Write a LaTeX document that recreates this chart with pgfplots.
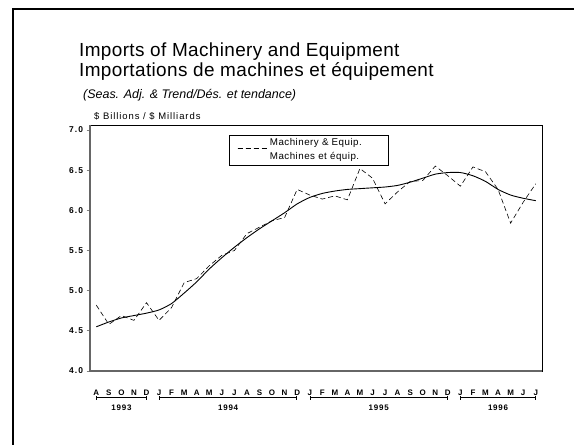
\documentclass[border=0pt]{standalone}
\usepackage{fontspec}
\setmainfont{Liberation Sans}
\usepackage{pgfplots}
\pgfplotsset{compat=1.18}
\usepackage{pgfplotstable}
\usetikzlibrary{arrows.meta}

\pgfplotstableread{
i  sa    trend
0  4.82  4.55
1  4.58  4.61
2  4.69  4.66
3  4.63  4.69
4  4.85  4.72
5  4.63  4.76
6  4.79  4.84
7  5.10  4.97
8  5.15  5.11
9  5.31  5.27
10 5.44  5.41
11 5.50  5.54
12 5.71  5.66
13 5.79  5.77
14 5.87  5.87
15 5.91  5.97
16 6.26  6.08
17 6.19  6.16
18 6.14  6.21
19 6.18  6.24
20 6.13  6.26
21 6.52  6.27
22 6.40  6.28
23 6.08  6.29
24 6.23  6.31
25 6.36  6.35
26 6.37  6.40
27 6.55  6.45
28 6.43  6.47
29 6.30  6.47
30 6.54  6.43
31 6.48  6.36
32 6.26  6.26
33 5.84  6.19
34 6.10  6.15
35 6.33  6.12
}\datatable

\newcommand{\ls}[1]{\addfontfeatures{LetterSpace=#1}}

\begin{document}
\begin{tikzpicture}[x=1bp,y=1bp]
\useasboundingbox (0,0) rectangle (574,445);
% outer frame
\draw[black, line width=1.2bp] (13,0) -- (13,436) -- (574,436);
% titles
\node[anchor=base west, inner sep=0pt, font=\fontsize{19}{22}\selectfont\ls{2}] at (79,388.5) {Imports of Machinery and Equipment};
\node[anchor=base west, inner sep=0pt, font=\fontsize{19}{22}\selectfont\ls{2}] at (79,368) {Importations de machines et équipement};
\node[anchor=base west, inner sep=0pt, font=\fontsize{12.5}{15}\selectfont\itshape] at (83,346.5) {(Seas. Adj. \& Trend/Dés. et tendance)};
\node[anchor=base west, inner sep=0pt, font=\fontsize{9.5}{11}\selectfont\ls{10}] at (94,325.5) {\$ Billions / \$ Milliards};

\begin{axis}[
  at={(90bp,74bp)}, anchor=south west,
  scale only axis, width=452bp, height=246bp,
  xmin=-0.5, xmax=35.5, ymin=4.0, ymax=7.062,
  clip=false,
  axis line style={black, line width=0.6bp},
  xtick={0,...,35},
  xticklabels={A,S,O,N,D,J,F,M,A,M,J,J,A,S,O,N,D,J,F,M,A,M,J,J,A,S,O,N,D,J,F,M,A,M,J,J},
  x tick style={draw=none},
  xticklabel style={font=\fontsize{8}{9}\selectfont\bfseries, text height=6bp, text depth=0bp, yshift=-11.5bp},
  ytick={4.0,4.5,5.0,5.5,6.0,6.5,7.0},
  yticklabels={4.0,4.5,5.0,5.5,6.0,6.5,7.0},
  yticklabel style={font=\fontsize{8.5}{9}\selectfont\bfseries\ls{12}},
  ytick pos=left, tick align=outside, major tick length=3.5bp,
  y tick style={gray, line width=0.8bp},
  /pgf/number format/assume math mode=true,
  legend style={at={(0.3075,0.959)}, anchor=north west, draw=black, line width=0.6bp,
    inner xsep=8bp, inner ysep=1.5bp, font=\fontsize{9.8}{14}\selectfont\ls{5}, cells={align=left}},
  legend cell align=left,
  legend image code/.code={\draw[black, line width=0.6bp, dash pattern=on 5bp off 3bp] (0bp,1.5bp) -- (22bp,1.5bp); \path (0bp,1.5bp) -- (30bp,1.5bp);},
]
\addplot[black, line width=0.6bp, dash pattern=on 5bp off 3bp] table[x=i,y=sa] {\datatable};
\addlegendentry{Machinery \& Equip.\hspace*{16bp}\\Machines et équip.}
\addplot[black, line width=0.9bp, smooth, tension=0.4, forget plot] table[x=i,y=trend] {\datatable};
% left and bottom axis lines (gray, heavier)
\draw[gray!80!black, line width=1.5bp] (rel axis cs:0,1) -- (rel axis cs:0,0) -- (rel axis cs:1,0);
% year brackets
\draw[black, line width=0.8bp, {Bar[width=4bp]}-{Bar[width=4bp]}] (axis cs:0,3.668) -- (axis cs:4,3.668);
\draw[black, line width=0.8bp, {Bar[width=4bp]}-{Bar[width=4bp]}] (axis cs:5,3.668) -- (axis cs:16,3.668);
\draw[black, line width=0.8bp, {Bar[width=4bp]}-{Bar[width=4bp]}] (axis cs:17,3.668) -- (axis cs:28,3.668);
\draw[black, line width=0.8bp, {Bar[width=4bp]}-{Bar[width=4bp]}] (axis cs:29,3.668) -- (axis cs:35,3.668);
\node[font=\fontsize{8}{9}\selectfont\bfseries\ls{10}] at (axis cs:2,3.54) {1993};
\node[font=\fontsize{8}{9}\selectfont\bfseries\ls{10}] at (axis cs:10.5,3.54) {1994};
\node[font=\fontsize{8}{9}\selectfont\bfseries\ls{10}] at (axis cs:22.5,3.54) {1995};
\node[font=\fontsize{8}{9}\selectfont\bfseries\ls{10}] at (axis cs:32,3.54) {1996};
\end{axis}
\end{tikzpicture}
\end{document}
